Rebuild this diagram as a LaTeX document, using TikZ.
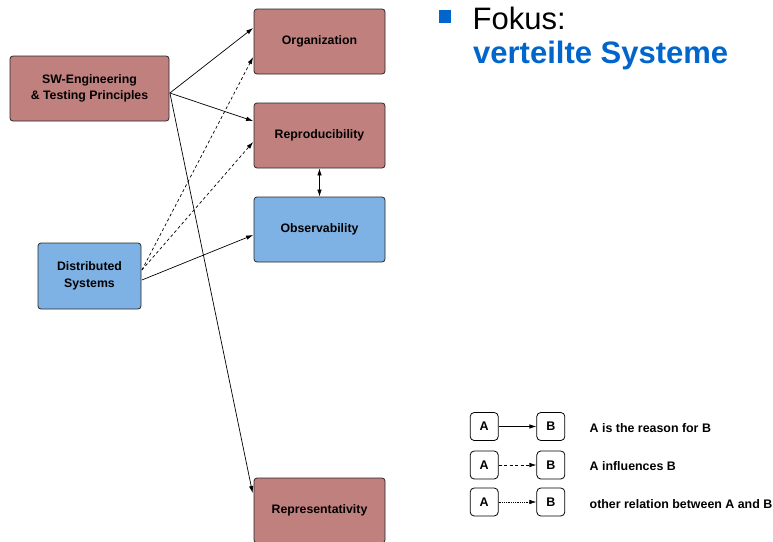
\documentclass[tikz,border=0pt]{standalone}
\usepackage{fontspec}
\setmainfont{Liberation Sans}
\usetikzlibrary{arrows.meta,calc}
\definecolor{redbox}{RGB}{192,128,126}
\definecolor{bluebox}{RGB}{126,178,228}
\definecolor{focusblue}{RGB}{0,102,204}
\definecolor{edgegray}{RGB}{40,40,40}

\tikzset{
  topic/.style={draw=edgegray, line width=0.8pt, rounded corners=3pt, align=center,
    inner sep=0pt, font=\bfseries\fontsize{12.3}{16.5}\selectfont},
  redtopic/.style={topic, fill=redbox},
  bluetopic/.style={topic, fill=bluebox},
  legbox/.style={draw=black, line width=0.8pt, rounded corners=4pt, fill=white,
    minimum width=28pt, minimum height=28pt, inner sep=0pt,
    font=\bfseries\fontsize{12.5}{14}\selectfont},
  legtext/.style={anchor=base west, inner sep=0pt, font=\bfseries\fontsize{12.4}{14}\selectfont},
  rel/.style={line width=0.7pt, -{Latex[length=7pt,width=4.5pt]}},
  infl/.style={rel, dash pattern=on 3pt off 2.5pt},
  other/.style={rel, dash pattern=on 0.8pt off 1pt},
}

\begin{document}
\begin{tikzpicture}[x=1pt,y=-1pt]
\clip (0,0) rectangle (773,541);
\fill[white] (0,0) rectangle (773,541);

% topic boxes
\node[redtopic, minimum width=159pt, minimum height=65pt] (sw) at (89.5,88.5) {SW-Engineering\\\& Testing Principles};
\node[bluetopic, minimum width=103pt, minimum height=66pt] (dist) at (89.5,276) {Distributed\\Systems};
\node[redtopic, minimum width=131pt, minimum height=65pt] (org) at (319.5,41.5) {Organization};
\node[redtopic, minimum width=131pt, minimum height=65pt] (repro) at (319.5,135.5) {Reproducibility};
\node[bluetopic, minimum width=131pt, minimum height=65pt] (obs) at (319.5,229.5) {Observability};
\node[redtopic, minimum width=131pt, minimum height=65pt] (repr) at (319.5,510.5) {Representativity};

% relations
\coordinate (swout) at ($(sw.east)+(0.5,4.5)$);
\draw[rel] (swout) -- ($(org.west)+(-0.5,-13.5)$);
\draw[rel] (swout) -- ($(repro.west)+(-0.5,-14.5)$);
\draw[rel] (swout) -- ($(repr.west)+(-1,-17.5)$);
\coordinate (distout) at ($(dist.east)+(0.5,-6)$);
\draw[infl] (distout) -- ($(org.west)+(-0.5,15.5)$);
\draw[infl] (distout) -- ($(repro.west)+(-0.5,6.5)$);
\draw[rel] ($(dist.east)+(0.5,4)$) -- ($(obs.west)+(-0.5,5.5)$);
\draw[rel, {Latex[length=7pt,width=4.5pt]}-{Latex[length=7pt,width=4.5pt]}] (repro.south) -- (obs.north);

% heading
\fill[focusblue] (438.5,9.5) rectangle (451,22.5);
\node[anchor=base west, inner sep=0pt, font=\fontsize{31}{36}\selectfont] (fokus) at (472.5,29) {Fokus:};
\node[anchor=base west, inner sep=0pt, text=focusblue, font=\bfseries\fontsize{31}{36}\selectfont] (vs) at (473,63.5) {verteilte Systeme};

% legend
\node[legbox] (a1) at (484.2,426.5) {A};
\node[legbox] (b1) at (550.8,426.5) {B};
\node[legbox] (a2) at (484.2,465) {A};
\node[legbox] (b2) at (550.8,465) {B};
\node[legbox] (a3) at (484.2,502) {A};
\node[legbox] (b3) at (550.8,502) {B};
\draw[rel] (a1) -- (b1);
\draw[infl] (a2) -- (b2);
\draw[other] (a3) -- (b3);
\node[legtext] (t1) at (589.5,432.6) {A is the reason for B};
\node[legtext] (t2) at (589.5,470) {A influences B};
\node[legtext] (t3) at (589.5,508.2) {other relation between A and B};
\end{tikzpicture}
\end{document}
